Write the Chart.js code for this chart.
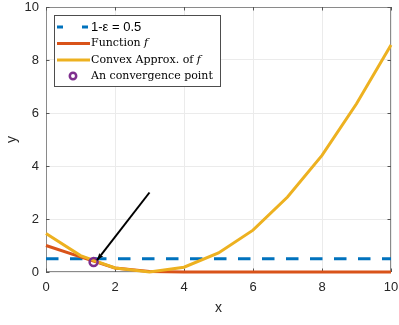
<!DOCTYPE html>
<html>
<head>
<meta charset="utf-8">
<script src="https://cdn.jsdelivr.net/npm/chart.js@4/dist/chart.umd.min.js"></script>
<style>
html,body{margin:0;padding:0;background:#fff;}
canvas{display:block;}
</style>
</head>
<body>
<canvas id="c" width="399" height="325"></canvas>
<script>
// ---- data ----
const xValues = [0, 1, 2, 3, 4, 5, 6, 7, 8, 9, 10];
const functionF = [1.0, 0.57, 0.15, 0.02, 0, 0, 0, 0, 0, 0, 0];
const convexApprox = [1.45, 0.62, 0.15, 0.0, 0.18, 0.72, 1.58, 2.83, 4.4, 6.35, 8.57];
const epsilonLevel = 0.5;
const epsilonRange = [0, 10];
const convergencePoint = [1.38, 0.38];
const arrowStart = [3, 3];
const arrowEnd = [1.48, 0.45];
const xTicks = [0, 2, 4, 6, 8, 10];
const yTicks = [0, 2, 4, 6, 8, 10];
const legendLabels = ['1-\u03b5 = 0.5', 'Function ', 'Convex Approx. of ', 'An convergence point'];

const BLUE = '#0072BD', RED = '#D95319', YEL = '#EDB120', PUR = '#7E2F8E';
const SANS = '"Liberation Sans", Arial, Helvetica, sans-serif';
const SERIF = '"DejaVu Serif", serif';

const pts = (xs, ys) => xs.map((x, i) => ({x, y: ys[i]}));

const framePlugin = {
  id: 'frame',
  beforeDatasetsDraw(chart) {
    const {ctx, chartArea: a, scales} = chart;
    ctx.save();
    ctx.strokeStyle = '#8a8a8a';
    ctx.lineWidth = 1;
    ctx.beginPath();
    ctx.rect(Math.round(a.left) + 0.5, Math.round(a.top) + 0.5, Math.round(a.right - a.left) - 1, Math.round(a.bottom - a.top) - 1);
    ctx.stroke();
    ctx.strokeStyle = '#555';
    const tl = 3.5;
    ctx.beginPath();
    xTicks.forEach(t => {
      const px = Math.round(scales.x.getPixelForValue(t)) + 0.5;
      ctx.moveTo(px, a.bottom); ctx.lineTo(px, a.bottom - tl);
      ctx.moveTo(px, a.top); ctx.lineTo(px, a.top + tl);
    });
    yTicks.forEach(t => {
      const py = Math.round(scales.y.getPixelForValue(t)) + 0.5;
      ctx.moveTo(a.left, py); ctx.lineTo(a.left + tl, py);
      ctx.moveTo(a.right, py); ctx.lineTo(a.right - tl, py);
    });
    ctx.stroke();
    ctx.restore();
  },
  afterDatasetsDraw(chart) {
    const {ctx, scales} = chart;
    const x1 = scales.x.getPixelForValue(arrowStart[0]), y1 = scales.y.getPixelForValue(arrowStart[1]);
    const x2 = scales.x.getPixelForValue(arrowEnd[0]), y2 = scales.y.getPixelForValue(arrowEnd[1]);
    const ang = Math.atan2(y2 - y1, x2 - x1);
    const L = 7, W = 2.6;
    ctx.save();
    ctx.fillStyle = '#000';
    ctx.beginPath();
    ctx.moveTo(x2, y2);
    ctx.lineTo(x2 - L * Math.cos(ang) + W * Math.sin(ang), y2 - L * Math.sin(ang) - W * Math.cos(ang));
    ctx.lineTo(x2 - L * 0.8 * Math.cos(ang), y2 - L * 0.8 * Math.sin(ang));
    ctx.lineTo(x2 - L * Math.cos(ang) - W * Math.sin(ang), y2 - L * Math.sin(ang) + W * Math.cos(ang));
    ctx.closePath();
    ctx.fill();
    ctx.restore();
  },
  afterDraw(chart) {
    const {ctx} = chart;
    const bx = 54.5, by = 15.5, bw = 166, bh = 71;
    ctx.save();
    ctx.fillStyle = '#fff';
    ctx.fillRect(bx, by, bw, bh);
    ctx.strokeStyle = '#4d4d4d';
    ctx.lineWidth = 1;
    ctx.strokeRect(bx, by, bw, bh);
    const rows = [27, 43.5, 60, 76];
    const sx0 = 57, sx1 = 90, tx = 91;
    ctx.lineWidth = 3;
    ctx.strokeStyle = BLUE;
    ctx.setLineDash([6, 19]);
    ctx.beginPath(); ctx.moveTo(sx0, rows[0]); ctx.lineTo(sx1, rows[0]); ctx.stroke();
    ctx.setLineDash([]);
    ctx.strokeStyle = RED;
    ctx.beginPath(); ctx.moveTo(sx0, rows[1]); ctx.lineTo(sx1, rows[1]); ctx.stroke();
    ctx.strokeStyle = YEL;
    ctx.beginPath(); ctx.moveTo(sx0, rows[2]); ctx.lineTo(sx1, rows[2]); ctx.stroke();
    ctx.strokeStyle = PUR;
    ctx.lineWidth = 2.5;
    ctx.beginPath(); ctx.arc(73, rows[3], 3.2, 0, Math.PI * 2); ctx.stroke();
    ctx.fillStyle = '#000';
    ctx.textBaseline = 'middle';
    ctx.textAlign = 'left';
    ctx.font = '13px ' + SANS;
    ctx.fillText(legendLabels[0], tx, rows[0] + 0.5);
    ctx.font = '11px ' + SERIF;
    ctx.fillText(legendLabels[1], tx, rows[1]);
    let w = ctx.measureText(legendLabels[1]).width;
    ctx.font = 'italic 11px ' + SERIF;
    ctx.fillText('f', tx + w, rows[1]);
    ctx.font = '11px ' + SERIF;
    ctx.fillText(legendLabels[2], tx, rows[2]);
    w = ctx.measureText(legendLabels[2]).width;
    ctx.font = 'italic 11px ' + SERIF;
    ctx.fillText('f', tx + w, rows[2]);
    ctx.font = '11px ' + SERIF;
    ctx.fillText(legendLabels[3], tx, rows[3]);
    ctx.restore();
  }
};

new Chart(document.getElementById('c'), {
  type: 'line',
  data: {
    datasets: [
      {label: legendLabels[0], data: epsilonRange.map(x => ({x, y: epsilonLevel})), borderColor: BLUE, borderWidth: 3,
       borderDash: [12.5, 11.5], pointRadius: 0, order: 5, clip: 6},
      {label: 'Function f', data: pts(xValues, functionF), borderColor: RED, borderWidth: 3, pointRadius: 0, order: 4, clip: 6, tension: 0},
      {label: 'Convex Approx. of f', data: pts(xValues, convexApprox), borderColor: YEL, borderWidth: 3, pointRadius: 0, order: 3, clip: 6, tension: 0},
      {label: legendLabels[3], data: [{x: convergencePoint[0], y: convergencePoint[1]}], showLine: false, pointRadius: 4,
       pointBorderWidth: 2.5, pointBorderColor: PUR, pointBackgroundColor: 'rgba(0,0,0,0)', order: 1, clip: 6},
      {label: 'arrow', data: [{x: arrowStart[0], y: arrowStart[1]}, {x: arrowEnd[0], y: arrowEnd[1]}], borderColor: '#000',
       borderWidth: 2, pointRadius: 0, order: 0, clip: 6}
    ]
  },
  options: {
    responsive: false,
    animation: false,
    devicePixelRatio: 1,
    layout: {padding: {top: 7, right: 8, left: 0, bottom: 0}},
    plugins: {legend: {display: false}, tooltip: {enabled: false}},
    scales: {
      x: {
        type: 'linear', min: 0, max: 10,
        afterFit: s => { s.height = 53; s.paddingLeft = 0; s.paddingRight = 0; },
        afterBuildTicks: s => { s.ticks = xTicks.map(v => ({value: v})); },
        ticks: {font: {size: 13, family: SANS}, color: '#262626', padding: 8, maxRotation: 0},
        grid: {color: '#ebebeb', drawTicks: false, lineWidth: 1},
        border: {display: false},
        title: {display: true, text: 'x', font: {size: 14, family: SANS}, color: '#262626', padding: {top: 0, bottom: 8}}
      },
      y: {
        type: 'linear', min: 0, max: 10,
        afterFit: s => { s.width = 46; s.paddingTop = 0; s.paddingBottom = 0; },
        afterBuildTicks: s => { s.ticks = yTicks.map(v => ({value: v})); },
        ticks: {font: {size: 13, family: SANS}, color: '#262626', padding: 7},
        grid: {color: '#ebebeb', drawTicks: false, lineWidth: 1},
        border: {display: false},
        title: {display: true, text: 'y', font: {size: 14, family: SANS}, color: '#262626', padding: {top: 4, bottom: 0}}
      }
    }
  },
  plugins: [framePlugin]
});
</script>
</body>
</html>
